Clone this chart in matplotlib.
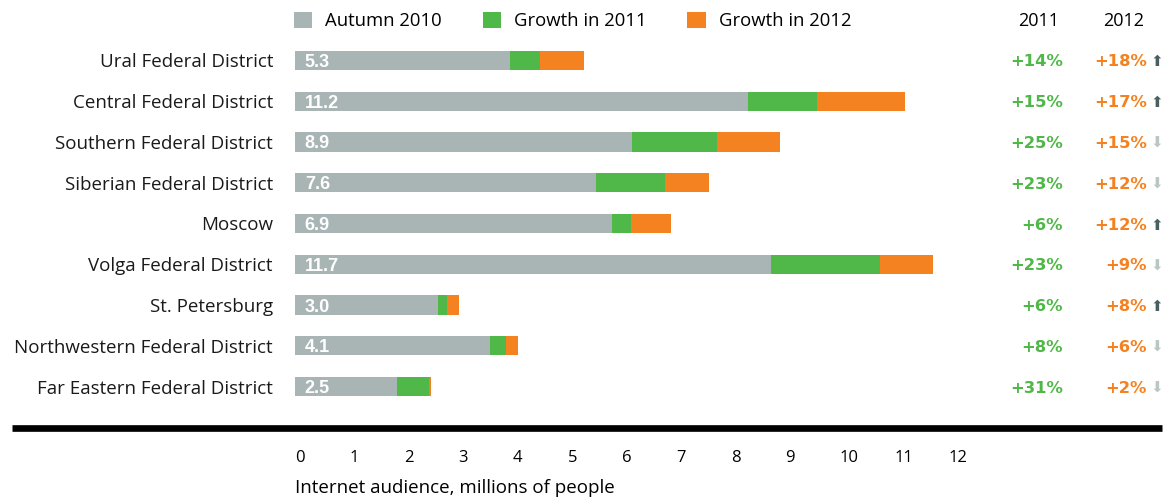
import matplotlib.pyplot as plt
from matplotlib.lines import Line2D
from matplotlib.transforms import blended_transform_factory

# Internet audience by federal district, millions of people
districts = ['Ural Federal District', 'Central Federal District', 'Southern Federal District',
             'Siberian Federal District', 'Moscow', 'Volga Federal District', 'St. Petersburg',
             'Northwestern Federal District', 'Far Eastern Federal District']
autumn_2010 = [3.94, 8.32, 6.19, 5.52, 5.81, 8.73, 2.62, 3.58, 1.87]
growth_2011 = [0.55, 1.25, 1.55, 1.27, 0.35, 2.00, 0.16, 0.29, 0.58]
growth_2012 = [0.81, 1.63, 1.16, 0.81, 0.74, 0.97, 0.22, 0.23, 0.05]
pct_2011 = [14, 15, 25, 23, 6, 23, 6, 8, 31]
pct_2012 = [18, 17, 15, 12, 12, 9, 8, 6, 2]
xticks = list(range(13))

grey = '#a9b5b4'
green = '#50b848'
orange = '#f58220'
font = ['Open Sans', 'DejaVu Sans']

W, H = 1169, 504
fig = plt.figure(figsize=(W / 100, H / 100), dpi=100)
ax = fig.add_axes([295 / W, 1 - 407 / H, 654 / W, 367 / H])

y = list(range(len(districts)))
left2 = autumn_2010
left3 = [a + b for a, b in zip(autumn_2010, growth_2011)]
bh = 0.47
b1 = ax.barh(y, autumn_2010, height=bh, color=grey, label='Autumn 2010')
b2 = ax.barh(y, growth_2011, left=left2, height=bh, color=green, label='Growth in 2011')
b3 = ax.barh(y, growth_2012, left=left3, height=bh, color=orange, label='Growth in 2012')

ax.set_xlim(0, 12)
ax.set_ylim(len(districts) - 0.5, -0.5)
for s in ax.spines.values():
    s.set_visible(False)
ax.set_yticks([])
ax.set_xticks(xticks)
ax.tick_params(axis='x', length=0, pad=31, labelsize=12)
for t in ax.get_xticklabels():
    t.set_horizontalalignment('left')
    t.set_fontfamily(font)
ax.set_xlabel('Internet audience, millions of people', loc='left', fontsize=13.5,
              family=font, labelpad=9)

fx = blended_transform_factory(fig.transFigure, ax.transData)
for i, name in enumerate(districts):
    total = autumn_2010[i] + growth_2011[i] + growth_2012[i]
    ax.text(0.18, i, f'{total:.1f}', color='white', fontsize=13, fontweight='bold',
            family=['Liberation Sans', 'DejaVu Sans'], va='center_baseline', ha='left')
    ax.text(273 / W, i, name, transform=fx, ha='right', va='center_baseline', fontsize=13.5,
            family=font, color='#1a1a1a')
    ax.text(1063 / W, i, f'+{pct_2011[i]}%', transform=fx, ha='right', va='center_baseline',
            fontsize=11.8, fontweight='bold', family='DejaVu Sans', color=green)
    ax.text(1147 / W, i, f'+{pct_2012[i]}%', transform=fx, ha='right', va='center_baseline',
            fontsize=11.8, fontweight='bold', family='DejaVu Sans', color=orange)
    up = pct_2012[i] > pct_2011[i]
    ax.text(1157 / W, i, '⬆' if up else '⬇', transform=fx, ha='center', va='center_baseline',
            fontsize=11, family='DejaVu Sans', color='#4a5f61' if up else '#b9c6c4')

fig.text(1039 / W, 1 - 21 / H, '2011', ha='center', va='center', fontsize=13, family=font)
fig.text(1124 / W, 1 - 21 / H, '2012', ha='center', va='center', fontsize=13, family=font)

fig.legend(handles=[b1, b2, b3], loc='center left', bbox_to_anchor=(294 / W, 1 - 21 / H),
           ncol=3, frameon=False, handlelength=1.0, handleheight=1.0, handletextpad=0.7,
           columnspacing=2.2, borderpad=0, borderaxespad=0,
           prop={'family': font, 'size': 13.3})

# heavy rule above the scale
fig.add_artist(Line2D([12 / W, 1162 / W], [1 - 428 / H, 1 - 428 / H], color='black',
                      linewidth=4.8, solid_capstyle='butt', transform=fig.transFigure))

fig.savefig('out.png', dpi=100)
